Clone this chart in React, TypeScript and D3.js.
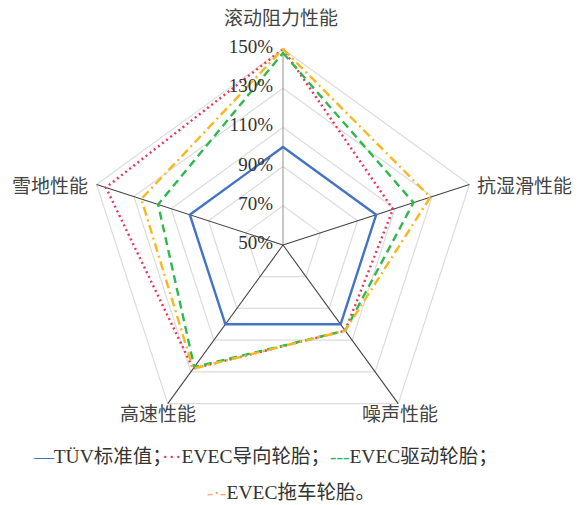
import React from "react";
import * as d3 from "d3";

const axesLabels = ["滚动阻力性能", "抗湿滑性能", "噪声性能", "高速性能", "雪地性能"];
const tuv = [100, 100, 100, 100, 100];
const evecGuide = [150, 109, 104, 128, 145];
const evecDrive = [148, 120, 104, 127, 117];
const evecTrailer = [150, 129, 104, 128, 126];
const ticks = [50, 70, 90, 110, 130, 150];

const W = 580, H = 505;
const cx = 283, cy = 245, R = 196;
const serif = "'Liberation Serif', 'Times New Roman', 'Noto Sans CJK SC', serif";

export default function App() {
  const r = d3.scaleLinear().domain([50, 150]).range([0, R]);
  const n = axesLabels.length;
  const ang = (i: number) => -Math.PI / 2 + (i * 2 * Math.PI) / n;
  const pt = (i: number, v: number): [number, number] => [
    cx + r(v) * Math.cos(ang(i)),
    cy + r(v) * Math.sin(ang(i)),
  ];
  const line = d3.line<[number, number]>().curve(d3.curveLinearClosed);
  const poly = (vals: number[]) => line(vals.map((v, i) => pt(i, v))) || "";

  const series = [
    { vals: evecGuide, color: "#e8365f", dash: "2 3.2", w: 2.4 },
    { vals: evecDrive, color: "#2fb84f", dash: "8 5", w: 2.4 },
    { vals: evecTrailer, color: "#f6b81a", dash: "9 4 2 4", w: 2.4 },
    { vals: tuv, color: "#4472c4", dash: null, w: 2.4 },
  ];

  const labelPos = [
    { x: 281, y: 25, anchor: "middle" },
    { x: 477, y: 193, anchor: "start" },
    { x: 400, y: 421, anchor: "middle" },
    { x: 158, y: 421, anchor: "middle" },
    { x: 88, y: 193, anchor: "end" },
  ];

  return (
    <svg width={W} height={H} style={{ position: "absolute", left: 0, top: 0, background: "#fff" }}>
      {ticks.slice(1).map((t) => (
        <path key={t} d={poly(axesLabels.map(() => t))} fill="none" stroke="#dcdcdc" strokeWidth={1.2} />
      ))}
      {axesLabels.map((_, i) => {
        const [x, y] = pt(i, 150);
        return (
          <line key={i} x1={cx} y1={cy} x2={x} y2={y} stroke={i === 0 ? "#9a9a9a" : "#444"} strokeWidth={1.1} />
        );
      })}
      {series.map((s, k) => (
        <path
          key={k}
          d={poly(s.vals)}
          fill="none"
          stroke={s.color}
          strokeWidth={s.w}
          strokeDasharray={s.dash || undefined}
          strokeLinejoin="round"
        />
      ))}
      {ticks.map((t) => (
        <text
          key={t}
          x={273}
          y={cy - r(t) + 4}
          textAnchor="end"
          fontFamily={serif}
          fontSize={19}
          fill="#333"
        >
          {t}%
        </text>
      ))}
      {axesLabels.map((l, i) => (
        <text
          key={l}
          x={labelPos[i].x}
          y={labelPos[i].y}
          textAnchor={labelPos[i].anchor as any}
          fontFamily={serif}
          fontSize={19}
          fill="#444"
        >
          {l}
        </text>
      ))}
      <text x={266} y={463} textAnchor="middle" fontFamily={serif} fontSize={19.5} fill="#333">
        <tspan fill="#4472c4">—</tspan>
        <tspan>TÜV标准值；</tspan>
        <tspan fill="#e8365f">···</tspan>
        <tspan>EVEC导向轮胎；</tspan>
        <tspan fill="#2fb84f">---</tspan>
        <tspan>EVEC驱动轮胎；</tspan>
      </text>
      <text x={291} y={499} textAnchor="middle" fontFamily={serif} fontSize={19.5} fill="#333">
        <tspan fill="#f6a87a">-·-</tspan>
        <tspan>EVEC拖车轮胎。</tspan>
      </text>
    </svg>
  );
}
